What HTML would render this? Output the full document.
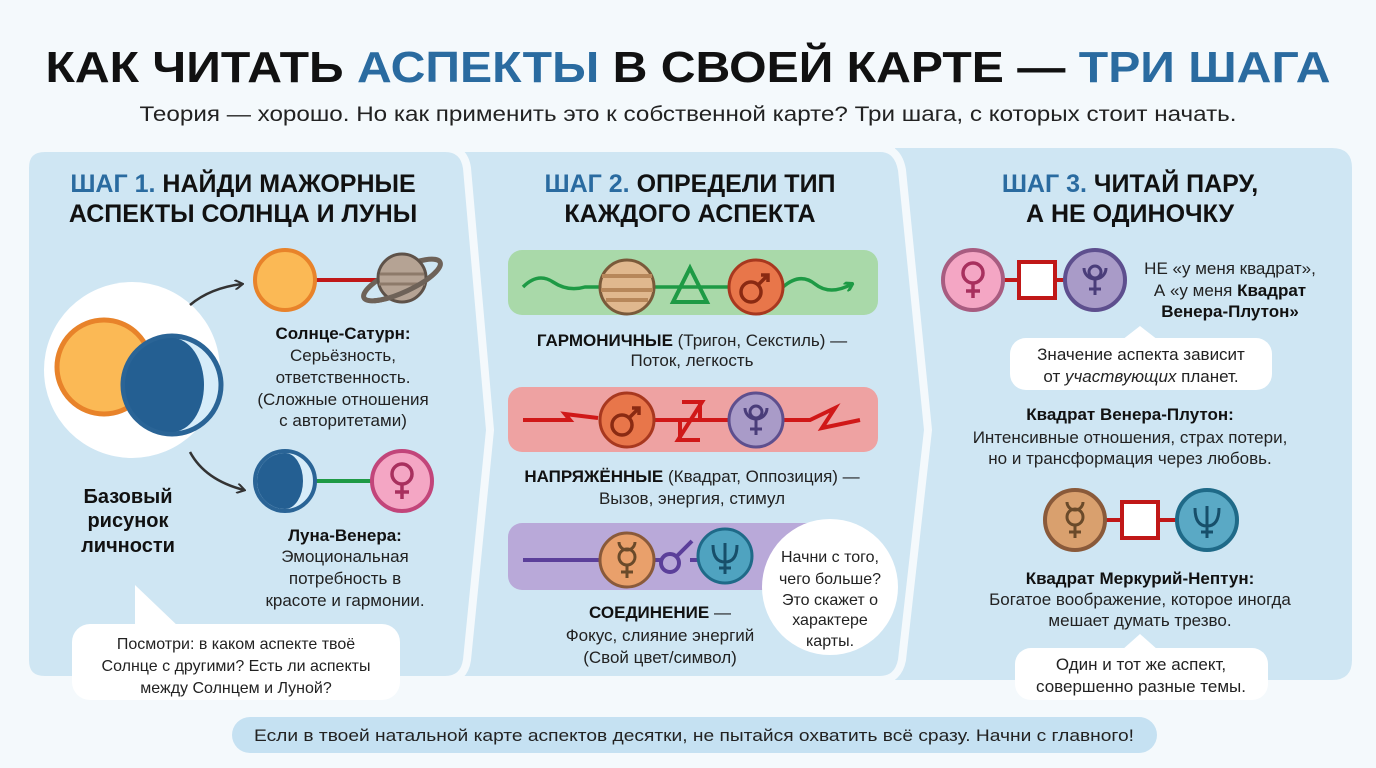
<!DOCTYPE html>
<html><head><meta charset="utf-8"><style>
html,body{margin:0;padding:0;background:#f4f9fc;}
svg{display:block;font-family:"Liberation Sans","DejaVu Sans",sans-serif;}
.b{font-weight:bold}
</style></head><body>
<svg width="1376" height="768" viewBox="0 0 1376 768" xmlns="http://www.w3.org/2000/svg">
<defs>
<marker id="ah" markerWidth="10" markerHeight="10" refX="8" refY="5" orient="auto" markerUnits="userSpaceOnUse"><path d="M1,0 L9,5 L1,10" fill="none" stroke="#333" stroke-width="2"/></marker>
<marker id="gh" markerWidth="10" markerHeight="10" refX="8" refY="5" orient="auto" markerUnits="userSpaceOnUse"><path d="M1,0 L9,5 L1,10" fill="none" stroke="#1e9a45" stroke-width="3"/></marker>
</defs>
<rect width="1376" height="768" fill="#f4f9fc"/>
<text x="688" y="82" text-anchor="middle" font-size="44" class="b" textLength="1285" lengthAdjust="spacingAndGlyphs" fill="#111">КАК ЧИТАТЬ <tspan fill="#2a6ba0">АСПЕКТЫ</tspan> В СВОЕЙ КАРТЕ — <tspan fill="#2a6ba0">ТРИ ШАГА</tspan></text>
<text x="688" y="121" text-anchor="middle" font-size="21" fill="#222" textLength="1097" lengthAdjust="spacingAndGlyphs">Теория — хорошо. Но как применить это к собственной карте? Три шага, с которых стоит начать.</text>

<path d="M895,148 H1332 Q1352,148 1352,168 V660 Q1352,680 1332,680 H895 Q918,430 895,148 Z" fill="#cfe6f3"/>
<path d="M455,148 H880 Q898,148 902,170 L928,430 L902,660 Q898,680 880,680 H455 Q480,430 455,148 Z" fill="#cfe6f3" stroke="#f4f9fc" stroke-width="8"/>
<path d="M45,148 H445 Q464,148 467,168 L490,430 L467,660 Q464,680 445,680 H45 Q25,680 25,660 V168 Q25,148 45,148 Z" fill="#cfe6f3" stroke="#f4f9fc" stroke-width="8"/>

<text x="243" y="192" text-anchor="middle" font-size="25" class="b" fill="#111"><tspan fill="#2a6ba0">ШАГ 1.</tspan> НАЙДИ МАЖОРНЫЕ</text>
<text x="243" y="222" text-anchor="middle" font-size="25" class="b" fill="#111">АСПЕКТЫ СОЛНЦА И ЛУНЫ</text>
<circle cx="132" cy="370" r="88" fill="#fff"/>
<circle cx="104" cy="367" r="47" fill="#fbb955" stroke="#e8832a" stroke-width="5"/>
<circle cx="172" cy="385" r="49" fill="#d6ecf9" stroke="#2a6496" stroke-width="5"/>
<path d="M172,338 A47,47 0 0 0 172,432 A32,47 0 0 0 172,338 Z" fill="#245f92"/>
<path d="M190,305 Q210,288 242,284" fill="none" stroke="#333" stroke-width="2.5" marker-end="url(#ah)"/>
<path d="M190,452 Q205,480 244,490" fill="none" stroke="#333" stroke-width="2.5" marker-end="url(#ah)"/>
<line x1="315" y1="280" x2="380" y2="280" stroke="#c01818" stroke-width="4"/>
<circle cx="285" cy="280" r="30" fill="#fbb955" stroke="#e8832a" stroke-width="4"/>
<ellipse cx="402" cy="280" rx="42" ry="12" fill="none" stroke="#6e6258" stroke-width="5" transform="rotate(-25 402 280)"/>
<circle cx="402" cy="278" r="24" fill="#b5a394" stroke="#5e5249" stroke-width="3"/>
<path d="M380,274 H424 M379,284 H425" stroke="#8d7a6a" stroke-width="3"/>
<ellipse cx="402" cy="280" rx="42" ry="12" fill="none" stroke="#6e6258" stroke-width="5" transform="rotate(-25 402 280)" stroke-dasharray="70 200" stroke-dashoffset="-10"/>
<text x="343" y="339" text-anchor="middle" font-size="17" class="b" fill="#111">Солнце-Сатурн:</text>
<g font-size="17" fill="#222" text-anchor="middle">
<text x="343" y="361">Серьёзность,</text>
<text x="343" y="383">ответственность.</text>
<text x="343" y="405">(Сложные отношения</text>
<text x="343" y="426">с авторитетами)</text>
</g>
<line x1="315" y1="481" x2="375" y2="481" stroke="#1e9a45" stroke-width="4"/>
<circle cx="285" cy="481" r="30" fill="#d6ecf9" stroke="#2a6496" stroke-width="4"/>
<path d="M285,453 A28,28 0 0 0 285,509 A18,28 0 0 0 285,453 Z" fill="#245f92"/>
<circle cx="402" cy="481" r="30" fill="#f4a6c4" stroke="#c2457a" stroke-width="4"/>
<circle cx="402" cy="474" r="10" fill="none" stroke="#a8305e" stroke-width="3.5"/>
<path d="M402,484 V499 M395,492 H409" stroke="#a8305e" stroke-width="3.5"/>
<g font-size="20" class="b" fill="#111" text-anchor="middle">
<text x="128" y="503">Базовый</text>
<text x="128" y="527">рисунок</text>
<text x="128" y="552">личности</text>
</g>
<text x="345" y="541" text-anchor="middle" font-size="17" class="b" fill="#111">Луна-Венера:</text>
<g font-size="17" fill="#222" text-anchor="middle">
<text x="345" y="562">Эмоциональная</text>
<text x="345" y="584">потребность в</text>
<text x="345" y="606">красоте и гармонии.</text>
</g>
<path d="M135,585 L180,628 L135,628 Z" fill="#fff"/>
<rect x="72" y="624" width="328" height="76" rx="18" fill="#fff"/>
<g font-size="16" fill="#222" text-anchor="middle">
<text x="236" y="649">Посмотри: в каком аспекте твоё</text>
<text x="236" y="671">Солнце с другими? Есть ли аспекты</text>
<text x="236" y="693">между Солнцем и Луной?</text>
</g>

<text x="690" y="192" text-anchor="middle" font-size="25" class="b" fill="#111"><tspan fill="#2a6ba0">ШАГ 2.</tspan> ОПРЕДЕЛИ ТИП</text>
<text x="690" y="222" text-anchor="middle" font-size="25" class="b" fill="#111">КАЖДОГО АСПЕКТА</text>
<rect x="508" y="250" width="370" height="65" rx="14" fill="#a9d9a9"/>
<path d="M523,287 Q538,272 553,282 T585,287 L600,287 M655,287 H730 M783,287 Q800,272 815,284 T852,284" fill="none" stroke="#1e9a45" stroke-width="3.5" marker-end="url(#gh)"/>
<circle cx="627" cy="287" r="27" fill="#e0b88e" stroke="#7a5a3a" stroke-width="3"/>
<path d="M602,276 H652 M601,290 H653 M606,300 H648" stroke="#b7875a" stroke-width="4"/>
<path d="M690,268 L707,302 L673,302 Z" fill="none" stroke="#1e9a45" stroke-width="4"/>
<circle cx="756" cy="287" r="27" fill="#e8764a" stroke="#a8381f" stroke-width="3"/>
<circle cx="751" cy="292" r="10" fill="none" stroke="#8a2a12" stroke-width="3.5"/>
<path d="M758,285 L768,275 M761,275 H768 V282" fill="none" stroke="#8a2a12" stroke-width="3.5"/>
<text x="692" y="346" text-anchor="middle" font-size="17" fill="#222"><tspan class="b" fill="#111">ГАРМОНИЧНЫЕ</tspan> (Тригон, Секстиль) —</text>
<text x="692" y="366" text-anchor="middle" font-size="17" fill="#222">Поток, легкость</text>

<rect x="508" y="387" width="370" height="65" rx="14" fill="#eea2a2"/>
<path d="M523,420 H570 L565,414 L598,418 M655,420 H730 M783,420 H810 L835,408 L822,428 L860,420" fill="none" stroke="#d01818" stroke-width="4"/>
<path d="M682,402 H702 L678,440 H700 M680,420 V440 M700,402 V420" fill="none" stroke="#d01818" stroke-width="4"/>
<circle cx="627" cy="420" r="27" fill="#e8764a" stroke="#a8381f" stroke-width="3"/>
<circle cx="622" cy="425" r="10" fill="none" stroke="#8a2a12" stroke-width="3.5"/>
<path d="M629,418 L639,408 M632,408 H639 V415" fill="none" stroke="#8a2a12" stroke-width="3.5"/>
<circle cx="756" cy="420" r="27" fill="#a99bc8" stroke="#5e4f8e" stroke-width="3"/>
<circle cx="756" cy="412" r="6" fill="none" stroke="#4a3d7a" stroke-width="3"/>
<path d="M745,408 A11,11 0 0 0 767,408 M756,419 V435 M750,429 H762" fill="none" stroke="#4a3d7a" stroke-width="3"/>
<text x="692" y="482" text-anchor="middle" font-size="17" fill="#222"><tspan class="b" fill="#111">НАПРЯЖЁННЫЕ</tspan> (Квадрат, Оппозиция) —</text>
<text x="692" y="504" text-anchor="middle" font-size="17" fill="#222">Вызов, энергия, стимул</text>

<rect x="508" y="523" width="320" height="67" rx="14" fill="#b9a9d9"/>
<path d="M523,560 H600 M655,560 H662 M690,560 H700" stroke="#5b3f9a" stroke-width="4"/>
<circle cx="670" cy="563" r="9" fill="none" stroke="#5b3f9a" stroke-width="4"/>
<path d="M677,556 L692,541" stroke="#5b3f9a" stroke-width="4"/>
<circle cx="627" cy="560" r="27" fill="#e9a06b" stroke="#8a5a3a" stroke-width="3"/>
<circle cx="627" cy="557" r="8" fill="none" stroke="#6a4a2a" stroke-width="3"/>
<path d="M619,542 A8,8 0 0 0 635,542 M627,565 V578 M621,572 H633" fill="none" stroke="#6a4a2a" stroke-width="3"/>
<circle cx="725" cy="556" r="27" fill="#4fa3c0" stroke="#1f6a88" stroke-width="3"/>
<path d="M713,545 Q713,562 725,562 Q737,562 737,545 M725,543 V574 M719,568 H731" fill="none" stroke="#174f6a" stroke-width="3"/>
<circle cx="830" cy="587" r="68" fill="#fff"/>
<g font-size="16" fill="#222" text-anchor="middle">
<text x="830" y="562">Начни с того,</text>
<text x="830" y="584">чего больше?</text>
<text x="830" y="605">Это скажет о</text>
<text x="830" y="625">характере</text>
<text x="830" y="646">карты.</text>
</g>
<text x="660" y="618" text-anchor="middle" font-size="17" fill="#222"><tspan class="b" fill="#111">СОЕДИНЕНИЕ</tspan> —</text>
<text x="660" y="641" text-anchor="middle" font-size="17" fill="#222">Фокус, слияние энергий</text>
<text x="660" y="663" text-anchor="middle" font-size="17" fill="#222">(Свой цвет/символ)</text>

<text x="1130" y="192" text-anchor="middle" font-size="25" class="b" fill="#111"><tspan fill="#2a6ba0">ШАГ 3.</tspan> ЧИТАЙ ПАРУ,</text>
<text x="1130" y="222" text-anchor="middle" font-size="25" class="b" fill="#111">А НЕ ОДИНОЧКУ</text>
<line x1="1000" y1="280" x2="1070" y2="280" stroke="#c01818" stroke-width="4"/>
<rect x="1019" y="262" width="36" height="36" fill="#fff" stroke="#c01818" stroke-width="4"/>
<circle cx="973" cy="280" r="30" fill="#f4a6c4" stroke="#a85c80" stroke-width="4"/>
<circle cx="973" cy="273" r="10" fill="none" stroke="#a8305e" stroke-width="3.5"/>
<path d="M973,283 V298 M966,291 H980" stroke="#a8305e" stroke-width="3.5"/>
<circle cx="1095" cy="280" r="30" fill="#a99bc8" stroke="#5e4f8e" stroke-width="4"/>
<circle cx="1095" cy="272" r="6" fill="none" stroke="#4a3d7a" stroke-width="3"/>
<path d="M1084,268 A11,11 0 0 0 1106,268 M1095,279 V295 M1089,289 H1101" fill="none" stroke="#4a3d7a" stroke-width="3"/>
<g font-size="17" fill="#222" text-anchor="middle">
<text x="1230" y="274">НЕ «у меня квадрат»,</text>
<text x="1230" y="296">А «у меня <tspan class="b" fill="#111">Квадрат</tspan></text>
<text x="1230" y="317" class="b" fill="#111">Венера-Плутон»</text>
</g>
<path d="M1140,326 L1158,340 L1122,340 Z" fill="#fff"/>
<rect x="1010" y="338" width="262" height="52" rx="16" fill="#fff"/>
<text x="1141" y="360" text-anchor="middle" font-size="17" fill="#222">Значение аспекта зависит</text>
<text x="1141" y="382" text-anchor="middle" font-size="17" fill="#222">от <tspan font-style="italic">участвующих</tspan> планет.</text>
<text x="1130" y="420" text-anchor="middle" font-size="17" class="b" fill="#111">Квадрат Венера-Плутон:</text>
<text x="1130" y="443" text-anchor="middle" font-size="17" fill="#222">Интенсивные отношения, страх потери,</text>
<text x="1130" y="464" text-anchor="middle" font-size="17" fill="#222">но и трансформация через любовь.</text>
<line x1="1100" y1="520" x2="1180" y2="520" stroke="#c01818" stroke-width="4"/>
<rect x="1122" y="502" width="36" height="36" fill="#fff" stroke="#c01818" stroke-width="4"/>
<circle cx="1075" cy="520" r="30" fill="#d9a06e" stroke="#8a5a3a" stroke-width="4"/>
<circle cx="1075" cy="517" r="8" fill="none" stroke="#6a4a2a" stroke-width="3"/>
<path d="M1067,502 A8,8 0 0 0 1083,502 M1075,525 V538 M1069,532 H1081" fill="none" stroke="#6a4a2a" stroke-width="3"/>
<circle cx="1207" cy="520" r="30" fill="#5aa9c5" stroke="#1f6a88" stroke-width="4"/>
<path d="M1195,508 Q1195,526 1207,526 Q1219,526 1219,508 M1207,506 V538 M1201,532 H1213" fill="none" stroke="#174f6a" stroke-width="3"/>
<text x="1140" y="584" text-anchor="middle" font-size="17" class="b" fill="#111">Квадрат Меркурий-Нептун:</text>
<text x="1140" y="605" text-anchor="middle" font-size="17" fill="#222">Богатое воображение, которое иногда</text>
<text x="1140" y="626" text-anchor="middle" font-size="17" fill="#222">мешает думать трезво.</text>
<path d="M1140,634 L1158,650 L1122,650 Z" fill="#fff"/>
<rect x="1015" y="648" width="253" height="52" rx="16" fill="#fff"/>
<text x="1141" y="670" text-anchor="middle" font-size="17" fill="#222">Один и тот же аспект,</text>
<text x="1141" y="692" text-anchor="middle" font-size="17" fill="#222">совершенно разные темы.</text>

<rect x="232" y="717" width="925" height="36" rx="18" fill="#c5e1f2"/>
<text x="694" y="741" text-anchor="middle" font-size="17" fill="#222" textLength="880" lengthAdjust="spacingAndGlyphs">Если в твоей натальной карте аспектов десятки, не пытайся охватить всё сразу. Начни с главного!</text>
</svg>
</body></html>
